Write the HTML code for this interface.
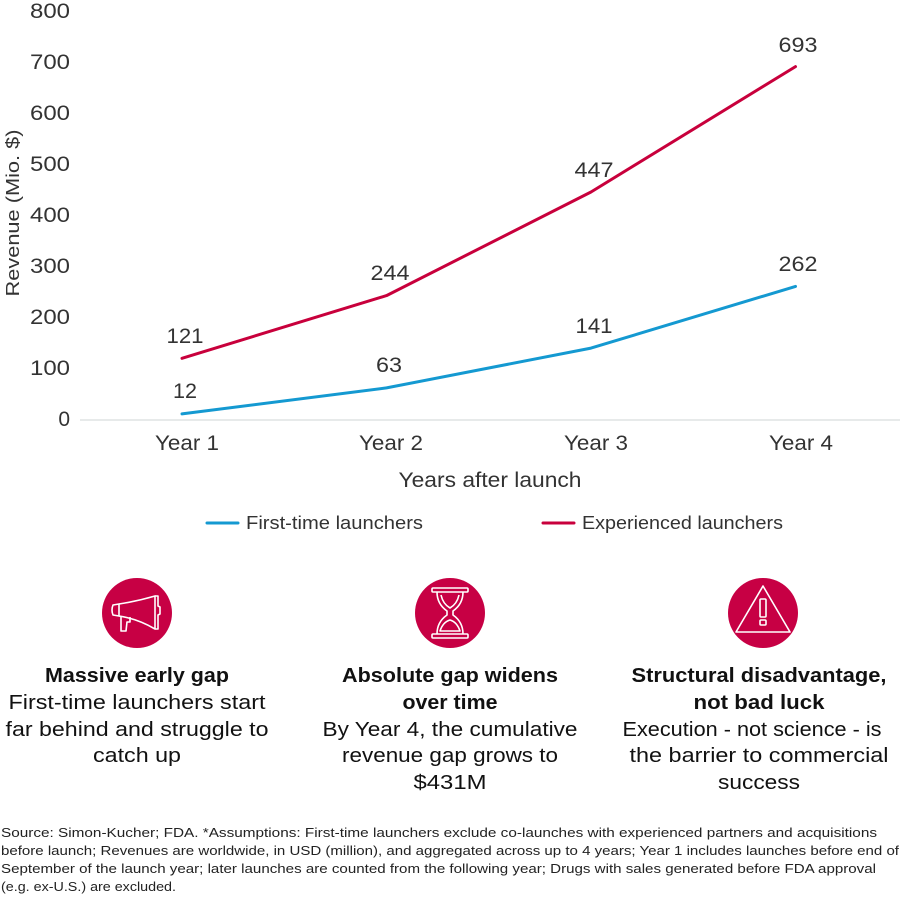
<!DOCTYPE html>
<html><head><meta charset="utf-8"><style>
html,body{margin:0;padding:0;background:#fff;}
svg{display:block;}
text{font-family:"Liberation Sans",sans-serif;}
</style></head><body>
<svg width="900" height="899" viewBox="0 0 900 899" xmlns="http://www.w3.org/2000/svg">
<rect width="900" height="899" fill="#fff"/>
<!-- y tick labels -->
<g font-size="21" fill="#333" text-anchor="end">
<text x="70" y="18" textLength="40" lengthAdjust="spacingAndGlyphs">800</text>
<text x="70" y="69" textLength="40" lengthAdjust="spacingAndGlyphs">700</text>
<text x="70" y="120" textLength="40" lengthAdjust="spacingAndGlyphs">600</text>
<text x="70" y="171" textLength="40" lengthAdjust="spacingAndGlyphs">500</text>
<text x="70" y="222" textLength="40" lengthAdjust="spacingAndGlyphs">400</text>
<text x="70" y="273" textLength="40" lengthAdjust="spacingAndGlyphs">300</text>
<text x="70" y="324" textLength="40" lengthAdjust="spacingAndGlyphs">200</text>
<text x="70" y="375" textLength="40" lengthAdjust="spacingAndGlyphs">100</text>
<text x="70" y="426">0</text>
</g>
<text transform="translate(19,213) rotate(-90)" font-size="18" fill="#333" text-anchor="middle" textLength="167" lengthAdjust="spacingAndGlyphs">Revenue (Mio. $)</text>
<!-- axis -->
<line x1="80" y1="420" x2="900" y2="420" stroke="#dfe4e4" stroke-width="1.5"/>
<!-- series -->
<polyline points="182,358.3 386.5,295.6 591,192 795.5,66.6" fill="none" stroke="#c8003c" stroke-width="3" stroke-linejoin="round" stroke-linecap="round"/>
<polyline points="182,413.9 386.5,387.9 591,348.1 795.5,286.4" fill="none" stroke="#1499d1" stroke-width="3" stroke-linejoin="round" stroke-linecap="round"/>
<!-- data labels -->
<g font-size="21" fill="#333" text-anchor="middle">
<text x="185" y="343" textLength="37" lengthAdjust="spacingAndGlyphs">121</text>
<text x="185" y="398" textLength="24" lengthAdjust="spacingAndGlyphs">12</text>
<text x="390" y="280" textLength="39" lengthAdjust="spacingAndGlyphs">244</text>
<text x="389" y="372" textLength="26" lengthAdjust="spacingAndGlyphs">63</text>
<text x="594" y="177" textLength="39" lengthAdjust="spacingAndGlyphs">447</text>
<text x="594" y="333" textLength="37" lengthAdjust="spacingAndGlyphs">141</text>
<text x="798" y="52" textLength="39" lengthAdjust="spacingAndGlyphs">693</text>
<text x="798" y="271" textLength="39" lengthAdjust="spacingAndGlyphs">262</text>
</g>
<!-- x labels -->
<g font-size="21" fill="#333" text-anchor="middle">
<text x="187" y="450" textLength="64" lengthAdjust="spacingAndGlyphs">Year 1</text>
<text x="391" y="450" textLength="64" lengthAdjust="spacingAndGlyphs">Year 2</text>
<text x="596" y="450" textLength="64" lengthAdjust="spacingAndGlyphs">Year 3</text>
<text x="801" y="450" textLength="64" lengthAdjust="spacingAndGlyphs">Year 4</text>
</g>
<text x="490" y="487" font-size="21" fill="#333" text-anchor="middle" textLength="183" lengthAdjust="spacingAndGlyphs">Years after launch</text>
<!-- legend -->
<line x1="207" y1="523" x2="238" y2="523" stroke="#1499d1" stroke-width="3" stroke-linecap="round"/>
<text x="246" y="529" font-size="18" fill="#333" textLength="177" lengthAdjust="spacingAndGlyphs">First-time launchers</text>
<line x1="543" y1="523" x2="574" y2="523" stroke="#c8003c" stroke-width="3" stroke-linecap="round"/>
<text x="582" y="529" font-size="18" fill="#333" textLength="201" lengthAdjust="spacingAndGlyphs">Experienced launchers</text>

<!-- icons -->
<circle cx="137" cy="613" r="35" fill="#c70044"/>
<g fill="none" stroke="#fff" stroke-width="1.6" stroke-linejoin="round">
<path d="M113,605 L119,604 L119,616 L113,615 Q111,610 113,605 Z"/>
<path d="M119,604 Q138,601 155,596 L155,629 Q138,619 119,616"/>
<path d="M155,596 L158,596 L158,606 L160,607 L160,614 L158,615 L158,629 L155,629"/>
<path d="M121,616 L121,631 L126,631 L127,622 L130,622 L130,617"/>
</g>
<circle cx="450" cy="613" r="35" fill="#c70044"/>
<g fill="none" stroke="#fff" stroke-width="1.6" stroke-linejoin="round">
<rect x="432" y="588" width="36" height="4" rx="1"/>
<rect x="432" y="634" width="36" height="4" rx="1"/>
<path d="M437,592 Q437,604 447,611 L447,615 Q437,622 437,634"/>
<path d="M463,592 Q463,604 453,611 L453,615 Q463,622 463,634"/>
<path d="M441,595 Q443,604 450,608 Q457,604 459,595"/>
<path d="M440,631 Q443,622 450,620 Q457,622 460,631 Z"/>
</g>
<circle cx="763" cy="613" r="35" fill="#c70044"/>
<g fill="none" stroke="#fff" stroke-width="1.6" stroke-linejoin="round">
<path d="M763,586 L790,632 L736,632 Z"/>
<rect x="760" y="599" width="6" height="18" rx="1"/>
<rect x="760" y="620" width="6" height="5" rx="1"/>
</g>

<!-- columns -->
<g font-size="20" fill="#111" text-anchor="middle">
<text x="137" y="682" font-weight="bold" textLength="184" lengthAdjust="spacingAndGlyphs">Massive early gap</text>
<text x="137" y="709" textLength="257" lengthAdjust="spacingAndGlyphs">First-time launchers start</text>
<text x="137" y="736" textLength="263" lengthAdjust="spacingAndGlyphs">far behind and struggle to</text>
<text x="137" y="762" textLength="88" lengthAdjust="spacingAndGlyphs">catch up</text>

<text x="450" y="682" font-weight="bold" textLength="216" lengthAdjust="spacingAndGlyphs">Absolute gap widens</text>
<text x="450" y="709" font-weight="bold" textLength="95" lengthAdjust="spacingAndGlyphs">over time</text>
<text x="450" y="736" textLength="255" lengthAdjust="spacingAndGlyphs">By Year 4, the cumulative</text>
<text x="450" y="762" textLength="216" lengthAdjust="spacingAndGlyphs">revenue gap grows to</text>
<text x="450" y="789" textLength="73" lengthAdjust="spacingAndGlyphs">$431M</text>

<text x="759" y="682" font-weight="bold" textLength="255" lengthAdjust="spacingAndGlyphs">Structural disadvantage,</text>
<text x="759" y="709" font-weight="bold" textLength="131" lengthAdjust="spacingAndGlyphs">not bad luck</text>
<text x="752" y="736" textLength="259" lengthAdjust="spacingAndGlyphs">Execution - not science - is</text>
<text x="759" y="762" textLength="259" lengthAdjust="spacingAndGlyphs">the barrier to commercial</text>
<text x="759" y="789" textLength="82" lengthAdjust="spacingAndGlyphs">success</text>
</g>

<!-- footnote -->
<g font-size="13" fill="#222">
<text x="1" y="837" textLength="876" lengthAdjust="spacingAndGlyphs">Source: Simon-Kucher; FDA. *Assumptions: First-time launchers exclude co-launches with experienced partners and acquisitions</text>
<text x="1" y="855" textLength="898" lengthAdjust="spacingAndGlyphs">before launch; Revenues are worldwide, in USD (million), and aggregated across up to 4 years; Year 1 includes launches before end of</text>
<text x="1" y="873" textLength="875" lengthAdjust="spacingAndGlyphs">September of the launch year; later launches are counted from the following year; Drugs with sales generated before FDA approval</text>
<text x="1" y="891" textLength="175" lengthAdjust="spacingAndGlyphs">(e.g. ex-U.S.) are excluded.</text>
</g>
</svg>
</body></html>
